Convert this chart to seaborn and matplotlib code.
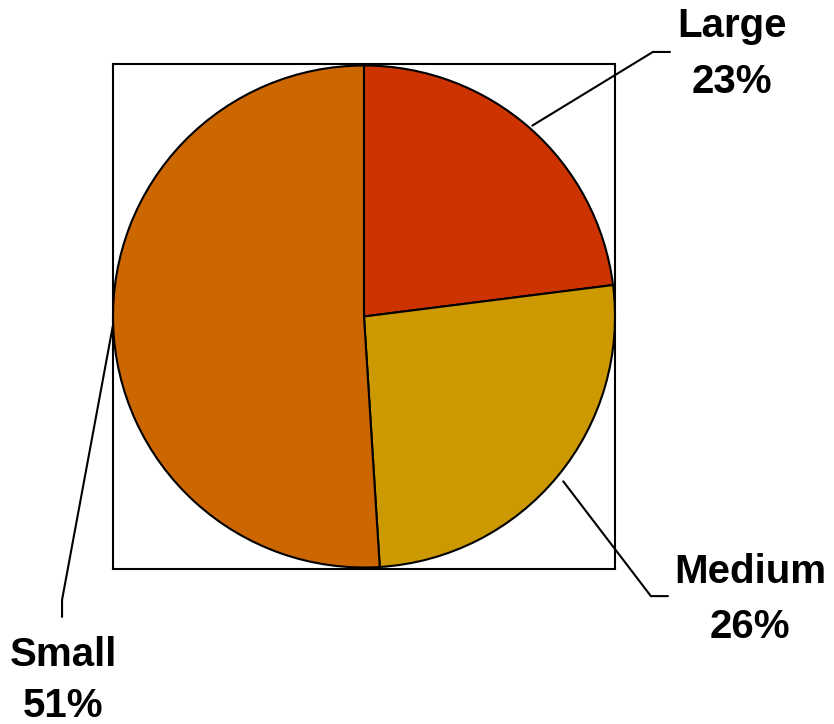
import numpy as np
import matplotlib
matplotlib.use("Agg")
import matplotlib.pyplot as plt
import seaborn as sns

# Data
categories = ["Large", "Medium", "Small"]
shares = [23, 26, 51]
colors = ["#CC3300", "#CC9900", "#CC6600"]

sns.set_theme(style="white")
plt.rcParams['font.family'] = ['Liberation Sans', 'DejaVu Sans']

W, H = 834, 724
fig = plt.figure(figsize=(W / 100, H / 100), dpi=100)
# axes box in pixels: x 113..615, y 64..569
ax = fig.add_axes([113 / W, 1 - 569 / H, 502 / W, 505 / H])

wedges, _ = ax.pie(shares, colors=colors, startangle=90, counterclock=False,
                   radius=1.0, wedgeprops=dict(edgecolor="black", linewidth=1.5))
ax.set_aspect("auto")
ax.set_xlim(-1.0, 1.0)
half_h = 505 / 502
ax.set_ylim(-half_h, half_h)
ax.set_xticks([])
ax.set_yticks([])
ax.set_frame_on(True)
for s in ax.spines.values():
    s.set_visible(True)
    s.set_color("black")
    s.set_linewidth(1.5)

# Label layout (data units relative to pie centre): elbow, end of leader, text anchor
elbows = [(1.151, 1.054), (1.143, -1.114), (-1.203, -1.129)]
ends = [(1.219, 1.054), (1.211, -1.114), (-1.203, -1.197)]
text_anchor = [(1.466, 1.002), (1.538, -1.171), (-1.197, -1.494)]
half_gap = [0.1115, 0.1095, 0.1035]
start_r = [1.014, 1.03, 1.0]

total = sum(shares)
cum = 0
for i, (cat, v) in enumerate(zip(categories, shares)):
    mid = 90 - (cum + v / 2) / total * 360
    cum += v
    r0 = start_r[i]
    sx, sy = r0 * np.cos(np.radians(mid)), r0 * np.sin(np.radians(mid))
    ex, ey = elbows[i]
    fx, fy = ends[i]
    ax.plot([sx, ex, fx], [sy, ey, fy], color="black", linewidth=1.5,
            clip_on=False, solid_joinstyle="miter")
    tx, ty = text_anchor[i]
    ax.text(tx, ty + half_gap[i], cat, ha="center", va="baseline",
            fontsize=29, fontweight="bold", color="black", clip_on=False)
    ax.text(tx, ty - half_gap[i], f"{v}%", ha="center", va="baseline",
            fontsize=29, fontweight="bold", color="black", clip_on=False)

fig.savefig("out.png", dpi=100)
